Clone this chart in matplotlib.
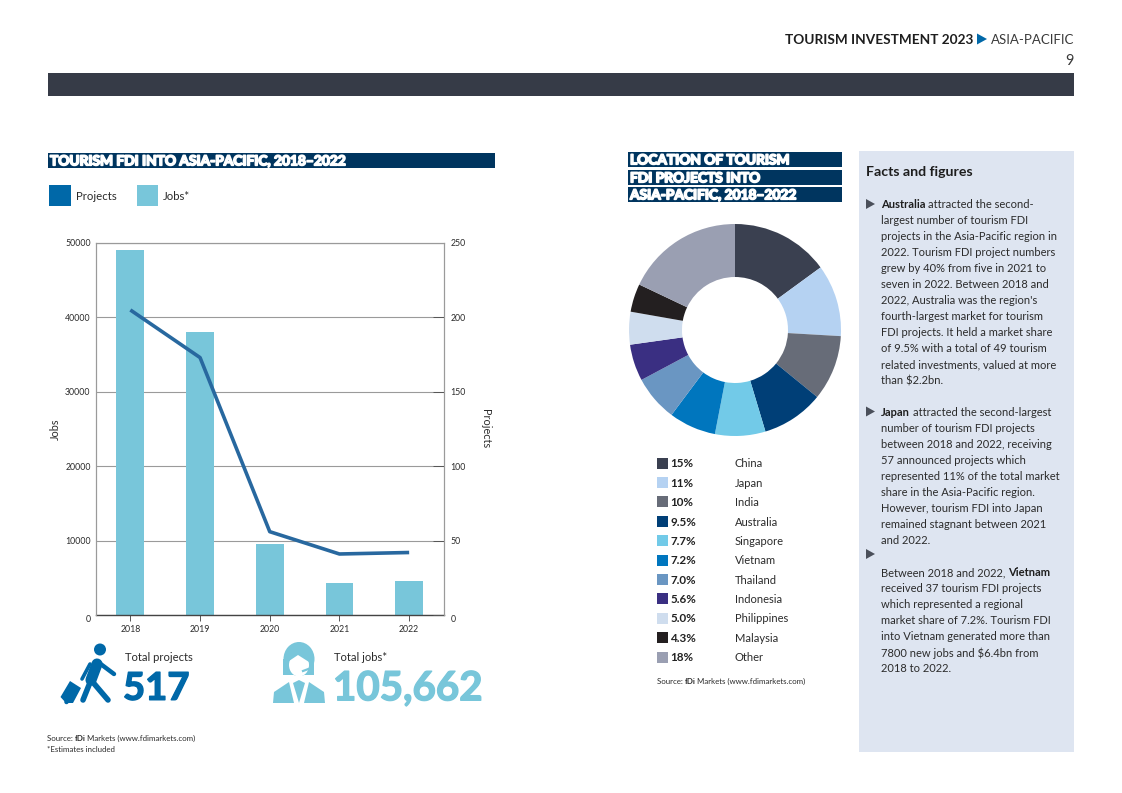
import matplotlib
matplotlib.use('Agg')
import matplotlib.pyplot as plt
import matplotlib.patheffects as pe
from matplotlib.patches import Rectangle, Polygon, Circle, Ellipse

plt.rcParams['font.family'] = ['Lato', 'DejaVu Sans']

W, H = 1122, 793

# данные
years = ['2018', '2019', '2020', '2021', '2022']
jobs = [49000, 38000, 9550, 4350, 4600]
projects = [205, 173, 56, 41, 42]

shares = [15, 11, 10, 9.5, 7.7, 7.2, 7.0, 5.6, 5.0, 4.3, 18]
share_labels = ['15%', '11%', '10%', '9.5%', '7.7%', '7.2%', '7.0%', '5.6%', '5.0%', '4.3%', '18%']
countries = ['China', 'Japan', 'India', 'Australia', 'Singapore', 'Vietnam',
             'Thailand', 'Indonesia', 'Philippines', 'Malaysia', 'Other']
colors = ['#3A4050', '#B5D2F2', '#676C78', '#003F77', '#72CAE8', '#0076BE',
          '#6A96C2', '#3A2F82', '#CFDDEE', '#231F20', '#9A9FB2']

jobs_ticks = [0, 10000, 20000, 30000, 40000, 50000]
proj_ticks = [0, 50, 100, 150, 200, 250]

facts_1 = ['attracted the second-', 'largest number of tourism FDI',
           'projects in the Asia-Pacific region in', '2022. Tourism FDI project numbers',
           'grew by 40% from five in 2021 to', 'seven in 2022. Between 2018 and',
           "2022, Australia was the region's", 'fourth-largest market for tourism',
           'FDI projects. It held a market share', 'of 9.5% with a total of 49 tourism',
           'related investments, valued at more', 'than $2.2bn.']
facts_2 = ['attracted the second-largest', 'number of tourism FDI projects',
           'between 2018 and 2022, receiving', '57 announced projects which',
           'represented 11% of the total market', 'share in the Asia-Pacific region.',
           'However, tourism FDI into Japan', 'remained stagnant between 2021', 'and 2022.']
facts_3 = ['Between 2018 and 2022,', 'received 37 tourism FDI projects',
           'which represented a regional', 'market share of 7.2%. Tourism FDI',
           'into Vietnam generated more than', '7800 new jobs and $6.4bn from', '2018 to 2022.']

DARK = '#2B2B2B'
NAVY = '#00355F'
BLUE = '#0068A8'
LIGHT = '#78C6DA'
GREY = '#9A9A9A'
BODY = 8.05


def px_axes(x0, y0, x1, y1):
    # оси по пиксельным координатам картинки
    return fig.add_axes([x0 / W, 1 - y1 / H, (x1 - x0) / W, (y1 - y0) / H])


fig = plt.figure(figsize=(W / 100, H / 100), dpi=100)

# слой для оформления, координаты в пикселях
bg = fig.add_axes([0, 0, 1, 1])
bg.set_xlim(0, W)
bg.set_ylim(H, 0)
bg.axis('off')


def box(x0, y0, x1, y1, color):
    bg.add_patch(Rectangle((x0, y0), x1 - x0, y1 - y0, color=color, lw=0))


def txt(x, y, s, size=BODY, weight='normal', color=DARK, ha='left', **kw):
    return bg.text(x, y + 0.8, s, fontsize=size, fontweight=weight, color=color, ha=ha, va='center', **kw)


def heading(x, y, s):
    t = txt(x, y, s, size=9.9, weight='bold', color='white')
    t.set_path_effects([pe.withStroke(linewidth=1.2, foreground='white')])


def big(x, y, s, size, color):
    t = txt(x, y, s, size=size, weight='bold', color=color)
    t.set_path_effects([pe.withStroke(linewidth=1.0, foreground=color)])


def after(t, x_gap=3):
    fig.canvas.draw_idle()
    return t.get_window_extent(fig.canvas.get_renderer()).x1 + x_gap


# шапка
box(48, 73, 1074, 96, '#363B47')
txt(1074, 39, 'ASIA-PACIFIC', size=9.5, color='#3A3A3A', ha='right')
txt(973, 39, 'TOURISM INVESTMENT 2023', size=9.8, weight='bold', color='#1E1E1E', ha='right')
bg.add_patch(Polygon([(977, 33.5), (977, 44.5), (987, 39)], color=BLUE, lw=0))
txt(1074, 60, '9', size=10.5, color='#3A3A3A', ha='right')

# заголовки
box(48, 153, 495, 168, NAVY)
heading(50, 160.5, 'TOURISM FDI INTO ASIA-PACIFIC, 2018–2022')
for y0, s in zip([152, 170, 187], ['LOCATION OF TOURISM', 'FDI PROJECTS INTO', 'ASIA-PACIFIC, 2018–2022']):
    box(628, y0, 842, y0 + 15, NAVY)
    heading(630, y0 + 7.5, s)

# легенда
box(49, 185, 71, 206, BLUE)
txt(76, 196, 'Projects', size=8.2)
box(137, 185, 158, 206, LIGHT)
txt(163, 196, 'Jobs*', size=8.2)

# столбцы и линия
ax = px_axes(95.5, 243, 444, 615)
ax.bar(years, jobs, width=0.4, color=LIGHT, zorder=2)
ax.set_xlim(-0.5, 4.5)
ax.set_ylim(0, 50000)
ax.set_yticks(jobs_ticks)
ax.grid(axis='y', color=GREY, lw=0.8, zorder=1)
ax.set_axisbelow(True)
ax.tick_params(axis='y', length=0, labelsize=6.3, pad=3.5, labelcolor=DARK)
ax.tick_params(axis='x', length=4, width=0.7, color='#555555', labelsize=6.3, pad=3.5, labelcolor=DARK)
ax.set_ylabel('Jobs', fontsize=7.8, color=DARK, labelpad=3)
ax.get_yticklabels()[0].set_va('top')
for side in ['top', 'left', 'right']:
    ax.spines[side].set_color(GREY)
    ax.spines[side].set_linewidth(0.8)
ax.spines['bottom'].set_color('#444444')
ax.spines['bottom'].set_linewidth(1.0)
ax.patch.set_alpha(0)

ax2 = ax.twinx()
ax2.plot(years, projects, color='#28689F', lw=2.6, solid_capstyle='butt', solid_joinstyle='round', zorder=3)
ax2.set_ylim(0, 250)
ax2.set_yticks(proj_ticks)
ax2.tick_params(axis='y', direction='in', length=8, width=0.7, color='#555555',
                labelsize=6.3, pad=4.5, labelcolor=DARK)
ax2.set_ylabel('Projects', fontsize=7.8, color=DARK, rotation=270, labelpad=18)
ax2.get_yticklabels()[0].set_va('top')
for side in ['top', 'left', 'right']:
    ax2.spines[side].set_color(GREY)
    ax2.spines[side].set_linewidth(0.8)
ax2.spines['bottom'].set_visible(False)

# кольцевая диаграмма
ax3 = px_axes(735 - 108, 330 - 108, 735 + 108, 330 + 108)
ax3.pie(shares, colors=colors, startangle=90, counterclock=False, radius=106 / 108,
        wedgeprops={'width': 53 / 108, 'linewidth': 0})
ax3.set_xlim(-1, 1)
ax3.set_ylim(-1, 1)

# подписи к кольцу
for i, (col, lab, name) in enumerate(zip(colors, share_labels, countries)):
    y = 463 + i * 19.4
    box(657, y - 5.5, 668, y + 5.5, col)
    txt(670.5, y, lab, size=8.4, weight='bold', color='#222222')
    txt(735, y, name, size=8.0)
src = txt(657, 681, 'Source: ', size=5.7)
src2 = txt(after(src, 0), 681, 'fDi', size=5.7, weight='bold')
txt(after(src2, 1), 681, 'Markets (www.fdimarkets.com)', size=5.7)

# итоги
txt(125, 657, 'Total projects', size=8.1)
big(123, 688, '517', 27.5, BLUE)
txt(334, 657, 'Total jobs*', size=8.1)
big(333, 688, '105,662', 29, LIGHT)

# значок: человек с чемоданом
bg.add_patch(Circle((100, 649.5), 6, color=BLUE, lw=0))
for seg, lw in [([(97, 664), (91, 680)], 8), ([(91, 680), (83, 700)], 4), ([(91, 680), (108, 700)], 4),
                ([(98, 662), (114, 674)], 3.2), ([(90, 664), (82, 679)], 2.6)]:
    bg.plot(*zip(*seg), color=BLUE, lw=lw, solid_capstyle='round')
bg.add_patch(Polygon([(60.5, 697), (70, 681), (81, 688), (73, 703), (66, 703)], color=BLUE, lw=0))
bg.add_patch(Circle((66.5, 702), 2.2, color=BLUE, lw=0))

# значок: женщина с гарнитурой
bg.add_patch(Ellipse((299, 659), 31, 34, color=LIGHT, lw=0))
bg.add_patch(Rectangle((283.5, 659), 31, 16, color=LIGHT, lw=0))
bg.add_patch(Ellipse((299, 665), 20, 23, color='white', lw=0))
bg.add_patch(Polygon([(289, 661), (298, 655), (309, 662), (309, 652), (289, 652)], color=LIGHT, lw=0))
bg.add_patch(Polygon([(273, 703), (274, 692), (289, 682), (294, 703)], color=LIGHT, lw=0))
bg.add_patch(Polygon([(325, 703), (324, 692), (309, 682), (304, 703)], color=LIGHT, lw=0))
bg.add_patch(Polygon([(293, 683), (299, 703), (305, 683), (299, 680)], color=LIGHT, lw=0))
bg.plot([303, 311], [671, 668], color=LIGHT, lw=1.6)

# сноски
src = txt(47, 737.5, 'Source: ', size=5.7)
src2 = txt(after(src, 0), 737.5, 'fDi', size=5.7, weight='bold')
txt(after(src2, 1), 737.5, 'Markets (www.fdimarkets.com)', size=5.7)
txt(47, 748.5, '*Estimates included', size=5.7)

# блок с фактами
box(859, 151, 1074, 752, '#DEE5F1')
txt(866, 171, 'Facts and figures', size=10.2, weight='bold', color='#1E1E1E')
for y in [204, 411.5, 554]:
    bg.add_patch(Polygon([(866, y - 5), (866, y + 5), (875, y)], color='#4A4F5A', lw=0))

t = txt(881, 204, 'Australia', weight='bold', color='#1E1E1E')
txt(after(t), 204, facts_1[0])
for i, s in enumerate(facts_1[1:], 1):
    txt(881, 204 + i * 16, s)

t = txt(881, 411.5, 'Japan', weight='bold', color='#1E1E1E')
txt(after(t), 411.5, facts_2[0])
for i, s in enumerate(facts_2[1:], 1):
    txt(881, 411.5 + i * 16, s)

t = txt(881, 572, facts_3[0])
txt(after(t), 572, 'Vietnam', weight='bold', color='#1E1E1E')
for i, s in enumerate(facts_3[1:], 1):
    txt(881, 572 + i * 16, s)

bg.set_xlim(0, W)
bg.set_ylim(H, 0)
fig.savefig('out.png', dpi=100)
